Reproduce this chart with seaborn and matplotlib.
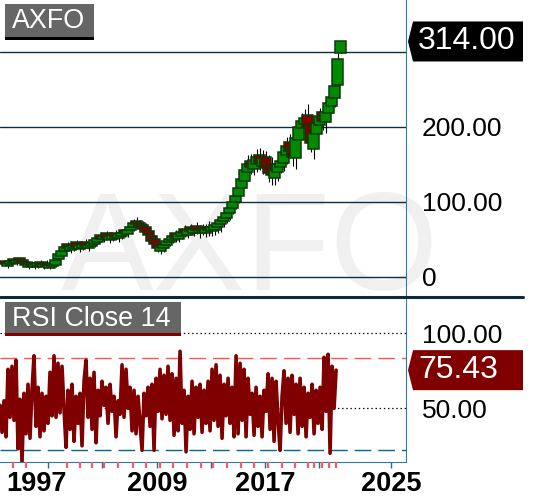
import numpy as np
import pandas as pd
import matplotlib
matplotlib.use("Agg")
import matplotlib.pyplot as plt
import seaborn as sns
from matplotlib.patches import Polygon, Rectangle
from matplotlib.lines import Line2D
import matplotlib.transforms as mtransforms

# ---------------- data ----------------
ticker = "AXFO"
rsi_title = "RSI Close 14"

closes = [17, 19, 21, 20, 23, 21, 19, 16, 17, 15,
          17, 18, 16, 17, 15, 16, 17, 22, 30, 35,
          40, 38, 41, 43, 40, 42, 44, 41, 43, 45,
          49, 52, 50, 55, 52, 54, 56, 53, 57, 59,
          58, 63, 67, 72, 70, 66, 64, 60, 56, 48,
          44, 38, 40, 43, 48, 51, 54, 52, 57, 60,
          58, 62, 61, 64, 62, 63, 61, 64, 62, 66,
          69, 72, 76, 80, 85, 92, 100, 108, 118, 130,
          142, 150, 146, 156, 160, 152, 158, 145, 138, 136,
          142, 150, 155, 166, 175, 168, 160, 185, 200, 208,
          212, 200, 178, 192, 205, 215, 208, 220, 232, 240,
          255, 290, 314]

opens = [21, 15, 17, 24, 19, 25, 23, 20, 13, 19,
         13, 14, 20, 13, 19, 12, 14, 16, 24, 28,
         34, 44, 36, 38, 46, 37, 39, 47, 38, 41,
         44, 47, 56, 50, 58, 49, 51, 59, 52, 55,
         63, 57, 62, 66, 75, 72, 69, 66, 61, 55,
         50, 45, 35, 38, 43, 46, 49, 58, 51, 55,
         64, 56, 66, 59, 68, 58, 66, 59, 67, 61,
         63, 67, 70, 74, 79, 85, 92, 100, 108, 118,
         128, 140, 155, 144, 150, 163, 148, 160, 150, 146,
         132, 140, 147, 152, 162, 180, 172, 158, 182, 198,
         204, 216, 202, 170, 190, 203, 220, 206, 218, 228,
         238, 256, 299]

wicks = [2, 3, 2, 2, 3, 2, 2, 3, 2, 2, 3, 2, 2, 2, 3, 2, 2, 3, 4, 3,
         3, 3, 4, 3, 3, 4, 3, 3, 4, 3, 4, 3, 4, 4, 3, 4, 3, 4, 5, 4,
         5, 4, 4, 5, 5, 4, 5, 6, 5, 5, 6, 5, 4, 5, 4, 5, 4, 5, 4, 5,
         5, 4, 5, 4, 5, 6, 5, 6, 7, 6, 7, 8, 10, 8, 7, 9, 8, 10, 9, 8,
         10, 12, 9, 8, 10, 9, 11, 8, 12, 14, 10, 12, 9, 11, 12, 10, 12, 14, 10, 11,
         12, 14, 11, 13, 12, 10, 12, 14, 12, 10, 12, 8, 1]

rsi = [52, 34, 55, 31, 76, 44, 78, 42, 82, 23,
       56, 14, 60, 33, 66, 30, 62, 85, 38, 64,
       31, 60, 35, 58, 40, 74, 45, 85, 44, 80,
       47, 78, 50, 24, 62, 36, 66, 28, 58, 40,
       60, 25, 68, 82, 44, 70, 36, 74, 27, 62,
       45, 68, 52, 64, 40, 66, 48, 58, 31, 55,
       46, 79, 44, 76, 50, 64, 35, 62, 33, 58,
       40, 22, 60, 45, 64, 38, 66, 22, 70, 48,
       76, 43, 72, 46, 78, 42, 73, 32, 70, 35,
       88, 40, 62, 21, 58, 36, 68, 33, 64, 44,
       66, 34, 62, 40, 68, 35, 76, 42, 79, 38,
       72, 30, 66, 45, 70, 40, 64, 31, 85, 33,
       80, 42, 76, 31, 70, 46, 60, 32, 64, 38,
       58, 31, 62, 48, 73, 36, 70, 28, 68, 42,
       22, 58, 75, 40, 70, 34, 72, 46, 66, 33,
       70, 38, 64, 31, 60, 44, 66, 33, 62, 40,
       64, 36, 84, 48, 86, 20, 78, 50, 75.43]

price_ticks = [0, 100, 200, 300]
price_labels = ["0", "100.00", "200.00", ""]
rsi_ticks = [100, 50]
rsi_labels = ["100.00", "50.00"]
rsi_upper = 83.3
rsi_lower = 22.0

# bar-index positions of time ticks and labels
year_tick_idx = [14.5, 32.5, 50.8, 68.8, 86.8, 104.8, 128.8]
year_tick_labels = ["", "", "2009", "", "2017", "", "2025"]
first_year_label = "1997"
first_year_idx = 10.8
event_idx = [2.8, 7.2, 20.8, 25.2, 29.2, 33.2, 37.8, 42.8, 47.2, 51.8, 56.2,
             60.8, 65.5, 69.5, 74.2, 78.8, 83.2, 87.8, 92.5, 96.8, 101.2,
             103.2, 105.8, 108.2, 110.5]

# ---------------- derived ----------------
n = len(closes)
idx = np.arange(n)
df = pd.DataFrame({"i": idx, "open": opens, "close": closes, "wick": wicks})
df["top"] = df[["open", "close"]].max(axis=1)
df["bot"] = df[["open", "close"]].min(axis=1)
df["high"] = df["top"] + df["wick"]
df["low"] = df["bot"] - df["wick"]
df["up"] = df["close"] >= df["open"]

rsi_x = np.linspace(-1.5, 110.5, len(rsi))
rsi_df = pd.DataFrame({"x": rsi_x, "rsi": rsi})

# ---------------- style ----------------
sns.set_theme(style="white")
plt.rcParams["font.family"] = ["Liberation Sans", "DejaVu Sans"]
plt.rcParams["lines.scale_dashes"] = False

W, H = 543, 504
fig = plt.figure(figsize=(W / 100, H / 100), dpi=100)
fig.patch.set_facecolor("white")


def fx(px):
    return px / W


def fy(py):
    return 1 - py / H


ax = fig.add_axes([0, fy(297), fx(406), 297 / H])
ax2 = fig.add_axes([0, fy(462), fx(406), 165 / H], sharex=ax)
for a in (ax, ax2):
    a.set_facecolor("none")
    for s in a.spines.values():
        s.set_visible(False)
    a.spines["right"].set_visible(True)
    a.spines["right"].set_color("#2a7fa0")
    a.spines["right"].set_linewidth(0.8)
ax2.spines["bottom"].set_visible(True)
ax2.spines["bottom"].set_color("#2a7fa0")
ax2.spines["bottom"].set_linewidth(0.8)

# watermark
fig.text(fx(250), fy(290), ticker, fontsize=100, color="#f0f0f0",
         ha="center", va="baseline", zorder=-5)

# ---------------- main price panel ----------------
for t in price_ticks:
    ax.axhline(t, color="#0d2e42", lw=1.0, zorder=1)

ax.vlines(df["i"], df["low"], df["high"], color="black", lw=0.8, zorder=2)
colors = np.where(df["up"], "#008a00", "#800000")
ax.bar(df["i"], (df["top"] - df["bot"]).clip(lower=0.6), bottom=df["bot"],
       width=3.6, color=colors, edgecolor="#0a3a0a", linewidth=1.1, zorder=3)

ax.set_xlim(-1.5, 133.8)
ax.set_ylim(-26.7, 369.3)
ax.yaxis.tick_right()
ax.set_yticks(price_ticks)
ax.set_yticklabels(price_labels)
ax.tick_params(axis="y", length=0, pad=11.5, labelsize=19, labelcolor="black")
ax.tick_params(axis="x", bottom=False, labelbottom=False)

# ---------------- RSI panel ----------------
ax2.axhline(rsi_ticks[0], color="black", ls=(0, (1, 2)), lw=0.9)
ax2.axhline(rsi_ticks[1], color="black", ls=(0, (1, 2)), lw=0.9)
ax2.axhline(rsi_upper, color="#ff5555", ls=(0, (12, 5)), lw=1.0)
ax2.axhline(rsi_lower, color="#00668c", ls=(0, (12, 5)), lw=1.0)
sns.lineplot(data=rsi_df, x="x", y="rsi", ax=ax2, color="#800000", lw=2.6,
             zorder=3)
ax2.set_ylim(14.2, 124.2)
ax2.set_xlabel("")
ax2.set_ylabel("")
ax2.yaxis.tick_right()
ax2.set_yticks(rsi_ticks)
ax2.set_yticklabels(rsi_labels)
ax2.tick_params(axis="y", length=0, pad=11.5, labelsize=19, labelcolor="black")
ax2.set_xticks(year_tick_idx)
ax2.set_xticklabels(year_tick_labels, fontweight="bold")
ax2.tick_params(axis="x", bottom=True, length=4.5, width=1.0, color="#1f6f8f",
                labelsize=19.5, pad=2, labelcolor="black")
ax.set_xlim(-1.5, 133.8)

trans = mtransforms.blended_transform_factory(ax2.transData, ax2.transAxes)
ax2.vlines(event_idx, -6 / 165, 0, color="#ff5a5a", lw=1.6, transform=trans,
           clip_on=False, zorder=5)
ax2.text(first_year_idx, -9 / 165, first_year_label, transform=trans,
         ha="center", va="top", fontsize=19.5, fontweight="bold", color="black")

# ---------------- figure-level decorations ----------------
fig.add_artist(Line2D([0, fx(523)], [fy(297), fy(297)], color="#0d2a3a",
                      lw=2.2, transform=fig.transFigure))


def data_to_figy(a, val):
    disp = a.transData.transform((0, val))
    return fig.transFigure.inverted().transform(disp)[1]


def tag(a, val, text, face):
    yc = data_to_figy(a, val)
    hh = 20 / H
    pts = [(fx(408), yc), (fx(413), yc + hh), (fx(523), yc + hh),
           (fx(523), yc - hh), (fx(413), yc - hh)]
    fig.add_artist(Polygon(pts, closed=True, facecolor=face, edgecolor="none",
                           transform=fig.transFigure, zorder=6))
    fig.text(fx(418), yc, text, color="white", fontsize=23, ha="left",
             va="center", zorder=7)


tag(ax, closes[-1], f"{closes[-1]:.2f}", "black")
tag(ax2, rsi[-1], f"{rsi[-1]:.2f}", "#800000")


def title_box(x0, x1, y0, y1, ul, text):
    fig.add_artist(Rectangle((fx(x0), fy(y1)), fx(x1 - x0), (y1 - y0) / H,
                             facecolor="#666666", edgecolor="none",
                             transform=fig.transFigure, zorder=6))
    fig.add_artist(Rectangle((fx(x0), fy(y1 + 3)), fx(x1 - x0), 3 / H,
                             facecolor=ul, edgecolor="none",
                             transform=fig.transFigure, zorder=6))
    fig.text(fx(x0 + 7), fy((y0 + y1) / 2 + 1), text, color="white",
             fontsize=19.4, ha="left", va="center", zorder=7)


title_box(5, 94, 4, 37, "black", ticker)
title_box(5, 181, 302, 333, "#800000", rsi_title)

fig.savefig("out.png", dpi=100)
